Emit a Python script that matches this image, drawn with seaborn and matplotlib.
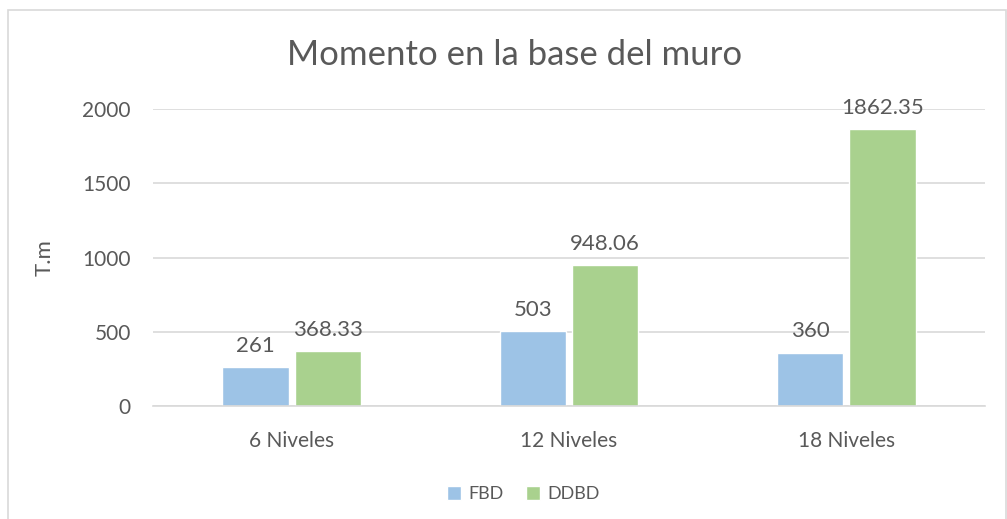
import pandas as pd
import seaborn as sns
import matplotlib.pyplot as plt
from matplotlib.patches import Rectangle

# Chart data
niveles = ['6 Niveles', '12 Niveles', '18 Niveles']
fbd = [261, 503, 360]
ddbd = [368.33, 948.06, 1862.35]
fbd_labels = ['261', '503', '360']
ddbd_labels = ['368.33', '948.06', '1862.35']

df = pd.DataFrame({
    'Nivel': niveles * 2,
    'Momento': fbd + ddbd,
    'Metodo': ['FBD'] * 3 + ['DDBD'] * 3,
})

sns.set_style('white')
plt.rcParams['font.family'] = ['Lato', 'DejaVu Sans']
txt = '#595959'

fig = plt.figure(figsize=(10.07, 5.19), dpi=100)
ax = fig.add_axes([153 / 1007, 1 - 406 / 519, (985 - 153) / 1007, (406 - 109) / 519])

sns.barplot(
    data=df, x='Nivel', y='Momento', hue='Metodo',
    palette={'FBD': '#9DC3E6', 'DDBD': '#A9D18E'}, saturation=1,
    width=0.52, gap=0.08, ax=ax, legend=True,
)

ax.set_ylim(0, 2000)
ax.set_yticks([0, 500, 1000, 1500, 2000])
ax.yaxis.grid(True, color='#D9D9D9', linewidth=1.2)
ax.set_axisbelow(True)
for s in ['top', 'right', 'left']:
    ax.spines[s].set_visible(False)
ax.spines['bottom'].set_color('#D9D9D9')
ax.spines['bottom'].set_linewidth(1.2)
ax.tick_params(axis='y', colors=txt, labelsize=15, length=0, pad=16)
ax.tick_params(axis='x', colors=txt, labelsize=15, length=0, pad=18)
ax.set_xlabel('')
ax.set_ylabel('T.m', color=txt, fontsize=16, labelpad=20)

for cont, labs in zip(ax.containers, [fbd_labels, ddbd_labels]):
    ax.bar_label(cont, labels=labs, padding=8, color=txt, fontsize=16)

ax.legend(loc='upper center', bbox_to_anchor=(0.445, -0.215), ncol=2, frameon=False,
          fontsize=13, labelcolor=txt, handlelength=0.8, handleheight=0.8,
          columnspacing=1.2, handletextpad=0.4)

fig.text(515 / 1007, 1 - 55 / 519, 'Momento en la base del muro', ha='center', va='center',
         fontsize=25, color=txt)

fig.patches.append(Rectangle((8 / 1007, -0.05), 998 / 1007, 1.05 - 10 / 519,
                             transform=fig.transFigure, fill=False,
                             edgecolor='#D9D9D9', linewidth=1.2))

plt.savefig('out.png', dpi=100)
